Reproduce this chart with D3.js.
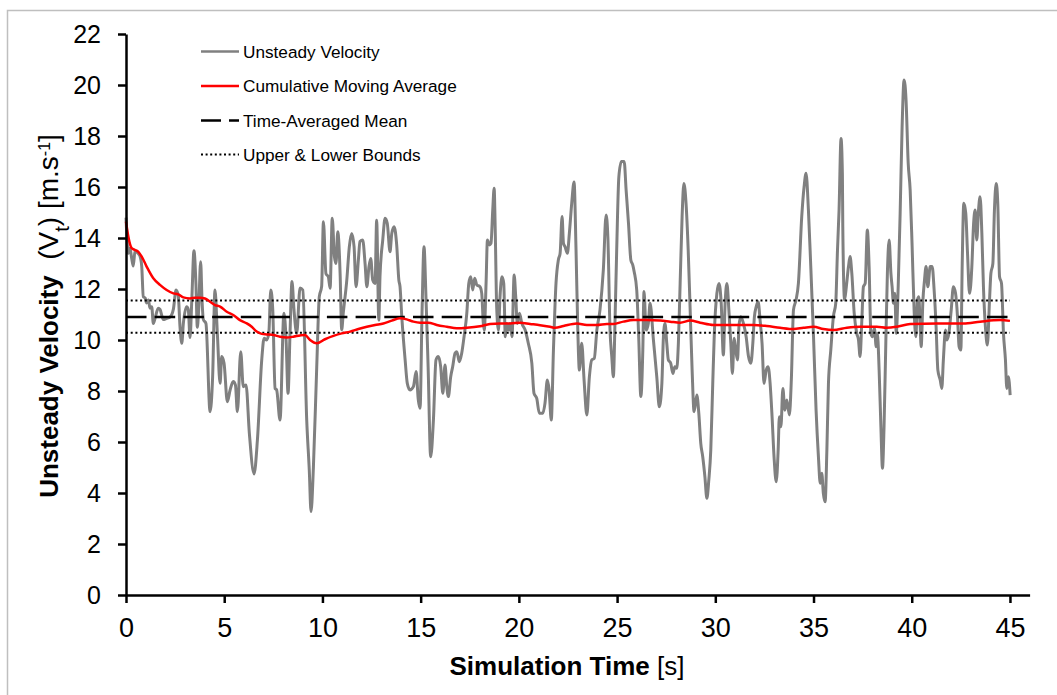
<!DOCTYPE html>
<html lang="en">
<head>
<meta charset="utf-8">
<title>Unsteady velocity</title>
<script src="https://cdn.jsdelivr.net/npm/d3@7"></script>
<style>
  body { margin: 0; background: #fff; }
  svg { display: block; font-family: Arial, "Liberation Sans", sans-serif; }
</style>
</head>
<body>
<script>
// unsteady velocity trace (time in s, velocity in m/s)
var timeData = [0, 0.12, 0.20, 0.29, 0.37, 0.46, 0.61, 0.71, 0.80, 0.88, 0.97, 1.05, 1.14, 1.22, 1.31, 1.39, 1.48, 1.64, 1.73, 1.90,
  2.07, 2.24, 2.41, 2.55, 2.66, 2.75, 2.84, 2.92, 3.09, 3.17, 3.26, 3.35, 3.46, 3.56, 3.63, 3.70, 3.80, 3.87, 3.94, 4.07,
  4.28, 4.41, 4.53, 4.65, 4.79, 4.87, 4.99, 5.16, 5.30, 5.46, 5.57, 5.67, 5.84, 5.97, 6.11, 6.28, 6.52, 6.69, 6.91, 7.03,
  7.16, 7.27, 7.37, 7.47, 7.59, 7.67, 7.84, 8.04, 8.15, 8.25, 8.35, 8.45, 8.55, 8.69, 8.86, 9.00, 9.20, 9.33, 9.42, 9.54,
  9.71, 9.84, 9.96, 10.05, 10.18, 10.30, 10.39, 10.50, 10.61, 10.69, 10.78, 10.90, 10.98, 11.06, 11.24, 11.37, 11.49, 11.61, 11.71, 11.83,
  11.91, 12.05, 12.17, 12.26, 12.37, 12.46, 12.56, 12.68, 12.76, 12.87, 12.93, 13.07, 13.19, 13.30, 13.44, 13.53, 13.65, 13.78, 13.89, 13.95,
  14.04, 14.21, 14.32, 14.46, 14.63, 14.77, 14.88, 14.97, 15.07, 15.17, 15.27, 15.38, 15.51, 15.65, 15.78, 15.90, 16.02, 16.13, 16.24, 16.33,
  16.41, 16.53, 16.63, 16.75, 16.84, 16.97, 17.09, 17.21, 17.35, 17.45, 17.55, 17.65, 17.75, 17.86, 18.02, 18.11, 18.19, 18.24, 18.33, 18.40,
  18.50, 18.58, 18.67, 18.74, 18.80, 18.87, 18.96, 19.04, 19.14, 19.23, 19.31, 19.38, 19.47, 19.55, 19.65, 19.76, 19.84, 19.92, 20.03, 20.15,
  20.32, 20.48, 20.66, 20.77, 20.91, 21.04, 21.22, 21.33, 21.45, 21.54, 21.65, 21.76, 21.89, 22.01, 22.10, 22.20, 22.27, 22.35, 22.47, 22.57,
  22.69, 22.81, 22.91, 23.00, 23.08, 23.20, 23.32, 23.46, 23.59, 23.71, 23.84, 23.97, 24.13, 24.30, 24.44, 24.53, 24.64, 24.73, 24.81, 24.90,
  24.98, 25.09, 25.22, 25.36, 25.46, 25.58, 25.70, 25.80, 25.87, 26.00, 26.10, 26.21, 26.31, 26.37, 26.48, 26.59, 26.68, 26.85, 27.02, 27.15,
  27.28, 27.36, 27.44, 27.53, 27.61, 27.73, 27.84, 27.94, 28.04, 28.12, 28.21, 28.31, 28.40, 28.51, 28.62, 28.72, 28.82, 28.92, 29.06, 29.16,
  29.26, 29.36, 29.47, 29.57, 29.67, 29.77, 29.87, 29.95, 30.08, 30.19, 30.30, 30.41, 30.50, 30.59, 30.69, 30.79, 30.87, 30.96, 31.04, 31.13,
  31.21, 31.30, 31.43, 31.57, 31.69, 31.81, 31.91, 31.99, 32.08, 32.18, 32.28, 32.38, 32.48, 32.59, 32.69, 32.79, 32.89, 32.99, 33.10, 33.20,
  33.26, 33.34, 33.44, 33.54, 33.64, 33.77, 33.87, 33.98, 34.11, 34.23, 34.40, 34.52, 34.62, 34.74, 34.86, 35.00, 35.13, 35.25, 35.34, 35.42,
  35.50, 35.59, 35.68, 35.76, 35.88, 36.01, 36.13, 36.22, 36.30, 36.40, 36.47, 36.49, 36.58, 36.67, 36.78, 36.86, 36.95, 37.07, 37.20, 37.29,
  37.37, 37.46, 37.54, 37.63, 37.74, 37.83, 37.92, 38.00, 38.10, 38.19, 38.25, 38.34, 38.43, 38.51, 38.59, 38.68, 38.76, 38.85, 38.94, 39.00,
  39.07, 39.14, 39.21, 39.31, 39.41, 39.51, 39.61, 39.71, 39.82, 39.92, 40.02, 40.12, 40.21, 40.29, 40.36, 40.43, 40.48, 40.57, 40.65, 40.73,
  40.82, 40.94, 41.04, 41.14, 41.24, 41.33, 41.45, 41.53, 41.61, 41.72, 41.79, 41.89, 42.01, 42.12, 42.23, 42.33, 42.41, 42.50, 42.57, 42.65,
  42.75, 42.84, 42.94, 43.06, 43.14, 43.23, 43.31, 43.40, 43.48, 43.57, 43.65, 43.75, 43.85, 43.96, 44.03, 44.13, 44.21, 44.30, 44.38, 44.47,
  44.57, 44.67, 44.77, 44.84, 44.92, 45.01];

var velocity = [14.8, 13.4, 13.6, 13.2, 12.9, 13.5, 13.4, 13.3, 12.9, 11.7, 11.65, 11.45, 11.57, 11.25, 11.3, 10.65, 10.85, 11.25, 11.2, 10.8,
  10.85, 10.9, 11.2, 11.96, 11.75, 10.5, 9.87, 10.65, 11.3, 11.2, 10.1, 11.57, 13.5, 12.2, 10.5, 11.2, 13.07, 11.57, 10.8, 10.65,
  7.19, 8.56, 11.96, 10.27, 8.3, 9.35, 9.1, 7.58, 8.04, 8.37, 8.24, 7.19, 9.54, 8.17, 8.24, 6.34, 4.75, 6.08, 9.22, 10.07,
  10.0, 10.26, 11.96, 11.2, 8.1, 8.04, 6.86, 11.05, 10.0, 7.91, 10.26, 12.29, 11.2, 10.26, 12.04, 11.96, 6.86, 4.9, 3.27, 5.0,
  8.95, 11.7, 12.1, 14.64, 12.6, 12.48, 12.03, 14.77, 13.27, 13.0, 14.25, 12.6, 10.4, 11.05, 12.35, 13.66, 14.18, 13.66, 12.09, 13.14,
  13.86, 13.92, 13.0, 12.09, 12.88, 13.2, 12.35, 12.22, 14.7, 10.78, 12.48, 13.92, 14.77, 14.58, 13.46, 14.18, 14.44, 13.73, 12.35, 12.09,
  10.91, 9.22, 8.3, 8.04, 8.17, 8.76, 7.65, 7.32, 11.05, 13.66, 11.7, 8.95, 5.42, 6.86, 9.22, 9.35, 8.95, 7.91, 9.02, 8.17,
  7.78, 8.56, 8.95, 9.48, 9.54, 9.15, 9.48, 10.13, 11.05, 12.22, 12.48, 11.96, 12.42, 12.16, 12.09, 11.83, 10.65, 10.39, 12.22, 13.92,
  13.73, 13.79, 15.1, 15.95, 14.18, 11.3, 10.39, 11.7, 12.48, 12.22, 10.13, 10.65, 10.39, 10.65, 10.13, 12.55, 11.7, 10.65, 11.05, 10.65,
  10.39, 9.87, 9.09, 7.91, 7.71, 7.13, 7.13, 7.52, 8.43, 8.04, 6.86, 9.61, 12.22, 13.14, 13.4, 14.84, 13.79, 13.66, 13.4, 14.18,
  15.36, 16.2, 13.53, 10.39, 8.82, 9.87, 8.43, 7.06, 8.56, 9.22, 9.28, 10.39, 11.18, 12.75, 14.9, 14.05, 10.39, 9.35, 8.56, 10.91,
  13.53, 16.4, 17.0, 17.0, 15.88, 14.58, 13.14, 12.94, 12.68, 11.96, 10.13, 7.78, 9.61, 11.9, 10.39, 10.65, 11.44, 10.0, 8.56, 7.38,
  8.3, 10.13, 10.65, 9.87, 9.22, 9.09, 8.69, 8.95, 8.89, 9.87, 12.22, 14.84, 16.14, 15.36, 13.53, 11.18, 8.82, 7.19, 7.84, 7.13,
  5.95, 5.42, 4.64, 3.79, 4.51, 5.69, 8.3, 10.26, 11.83, 12.22, 11.44, 9.41, 11.44, 12.22, 11.18, 9.87, 8.69, 10.07, 9.61, 9.22,
  10.59, 10.91, 10.65, 10.13, 9.35, 9.09, 9.87, 10.91, 11.3, 11.5, 10.78, 9.87, 8.3, 8.82, 8.95, 8.3, 6.99, 5.42, 4.44, 5.69,
  6.99, 6.6, 8.1, 7.25, 7.65, 7.06, 8.43, 11.18, 11.57, 12.22, 14.84, 16.01, 16.54, 15.1, 12.88, 10.13, 7.25, 5.42, 4.38, 4.77,
  3.99, 3.66, 5.69, 8.3, 9.61, 10.91, 11.44, 13.53, 15.1, 17.9, 16.5, 14.44, 11.57, 12.09, 12.88, 13.27, 12.61, 11.05, 10.26, 10.0,
  9.35, 10.78, 12.09, 12.22, 14.31, 12.88, 10.26, 10.13, 10.46, 9.74, 10.26, 8.82, 6.6, 4.97, 6.6, 9.87, 12.61, 13.92, 12.61, 12.09,
  11.44, 11.83, 10.26, 12.09, 14.97, 18.37, 20.2, 19.41, 16.93, 15.88, 13.66, 11.18, 10.13, 11.57, 11.7, 10.52, 9.74, 11.57, 12.35, 12.88,
  12.09, 12.88, 12.88, 11.96, 10.52, 8.82, 8.43, 8.1, 9.22, 10.39, 10.0, 10.26, 11.18, 12.09, 11.83, 10.91, 9.74, 9.61, 13.0, 15.36,
  14.97, 13.4, 11.83, 12.88, 14.44, 15.1, 13.92, 15.1, 15.62, 14.18, 12.09, 10.52, 9.8, 11.57, 12.61, 13.0, 15.1, 16.14, 15.36, 12.48,
  12.22, 10.26, 9.22, 8.1, 8.56, 7.84];

// cumulative moving average
var cmaTime = [0, 0.12, 0.29, 0.46, 0.63, 0.80, 1.05, 1.39, 1.73, 2.07, 2.41, 2.66, 2.92, 3.26, 3.51, 3.77, 4.02, 4.28, 4.53, 4.79,
  5.13, 5.46, 5.80, 6.15, 6.40, 6.65, 6.91, 7.16, 7.50, 7.84, 8.18, 8.52, 8.86, 9.11, 9.37, 9.71, 10.13, 10.56, 10.98, 11.41,
  11.83, 12.26, 12.68, 13.10, 13.53, 13.95, 14.29, 14.63, 14.97, 15.39, 15.82, 16.33, 16.84, 17.35, 18.02, 18.53, 19.04, 19.55, 20.06, 20.57,
  21.08, 21.59, 21.84, 22.27, 22.95, 23.46, 23.97, 24.48, 24.81, 25.32, 25.83, 26.51, 27.19, 27.70, 28.21, 28.72, 29.23, 29.90, 30.59, 31.26,
  31.94, 32.62, 33.30, 33.98, 34.49, 35.00, 35.50, 36.01, 36.70, 37.37, 38.22, 38.73, 39.24, 39.92, 41.28, 42.63, 43.48, 44.50, 45.0];
var cmaValues = [14.64, 14.05, 13.6, 13.53, 13.46, 13.27, 12.88, 12.42, 12.16, 11.96, 11.83, 11.79, 11.67, 11.63, 11.66, 11.66, 11.63, 11.5, 11.37, 11.31,
  11.11, 10.98, 10.78, 10.65, 10.52, 10.33, 10.24, 10.22, 10.2, 10.13, 10.1, 10.13, 10.18, 10.2, 10.0, 9.87, 10.03, 10.16, 10.26, 10.33,
  10.43, 10.52, 10.59, 10.65, 10.76, 10.85, 10.81, 10.72, 10.68, 10.68, 10.59, 10.52, 10.46, 10.48, 10.54, 10.63, 10.65, 10.65, 10.68, 10.63,
  10.58, 10.52, 10.48, 10.55, 10.65, 10.59, 10.59, 10.63, 10.63, 10.72, 10.78, 10.78, 10.76, 10.72, 10.68, 10.76, 10.68, 10.59, 10.59, 10.59,
  10.59, 10.55, 10.48, 10.43, 10.48, 10.52, 10.43, 10.39, 10.48, 10.52, 10.52, 10.48, 10.52, 10.63, 10.65, 10.65, 10.72, 10.78, 10.75];

var meanValue = 10.9;
var upperBound = 11.55;
var lowerBound = 10.28;
var xTicks = [0, 5, 10, 15, 20, 25, 30, 35, 40, 45];
var yTicks = [0, 2, 4, 6, 8, 10, 12, 14, 16, 18, 20, 22];
var legendNames = ["Unsteady Velocity", "Cumulative Moving Average", "Time-Averaged Mean", "Upper & Lower Bounds"];

var w = 1057, h = 695;
var plotLeft = 126, plotRight = 1029.6, plotTop = 34, plotBottom = 595;

var svg = d3.select("body").append("svg")
  .attr("width", w)
  .attr("height", h);

// chart frame
svg.append("rect")
  .attr("x", 7.5).attr("y", 10.5)
  .attr("width", 1100).attr("height", 700)
  .attr("fill", "white")
  .attr("stroke", "#bfbfbf")
  .attr("stroke-width", 1.5);

var x = d3.scaleLinear().domain([0, 46]).range([plotLeft, plotRight]);
var y = d3.scaleLinear().domain([0, 22]).range([plotBottom, plotTop]);

var velPoints = timeData.map(function(t, i) { return [t, velocity[i]]; });
var cmaPoints = cmaTime.map(function(t, i) { return [t, cmaValues[i]]; });

var line = d3.line()
  .x(function(d) { return x(d[0]); })
  .y(function(d) { return y(d[1]); })
  .curve(d3.curveMonotoneX);

// grey trace
svg.append("path")
  .datum(velPoints)
  .attr("d", line)
  .attr("fill", "none")
  .attr("stroke", "#808080")
  .attr("stroke-width", 3)
  .attr("stroke-linejoin", "round");

// bounds (dotted)
svg.selectAll("line.bound")
  .data([upperBound, lowerBound])
  .enter().append("line")
  .attr("class", "bound")
  .attr("x1", x(0)).attr("x2", x(45))
  .attr("y1", function(d) { return y(d); })
  .attr("y2", function(d) { return y(d); })
  .attr("stroke", "black")
  .attr("stroke-width", 2)
  .attr("stroke-dasharray", "2,2.7");

// mean (dashed)
svg.append("line")
  .attr("x1", x(0)).attr("x2", x(45))
  .attr("y1", y(meanValue)).attr("y2", y(meanValue))
  .attr("stroke", "black")
  .attr("stroke-width", 2.5)
  .attr("stroke-dasharray", "20.5,8.2");

// red CMA
svg.append("path")
  .datum(cmaPoints)
  .attr("d", line)
  .attr("fill", "none")
  .attr("stroke", "#ff0000")
  .attr("stroke-width", 2.5);

// axes
var xAxis = svg.append("g")
  .attr("transform", "translate(0," + plotBottom + ")")
  .call(d3.axisBottom(x).tickValues(xTicks).tickSize(8).tickSizeOuter(0).tickPadding(15));
xAxis.select(".domain").attr("stroke-width", 2.5);
xAxis.selectAll(".tick line").attr("stroke-width", 2.5);
xAxis.selectAll(".tick text")
  .attr("font-size", "27px")
  .attr("font-family", "Arial, 'Liberation Sans', sans-serif")
  .attr("fill", "black");

var yAxis = svg.append("g")
  .attr("transform", "translate(" + plotLeft + ",0)")
  .call(d3.axisLeft(y).tickValues(yTicks).tickSize(8).tickSizeOuter(0).tickPadding(17));
yAxis.select(".domain").attr("stroke-width", 2.5);
yAxis.selectAll(".tick line").attr("stroke-width", 2.5);
yAxis.selectAll(".tick text")
  .attr("font-size", "25px")
  .attr("font-family", "Arial, 'Liberation Sans', sans-serif")
  .attr("fill", "black");

// axis titles
var xt = svg.append("text")
  .attr("x", 567).attr("y", 675)
  .attr("text-anchor", "middle")
  .attr("font-size", "26px")
  .attr("fill", "black");
xt.append("tspan").attr("font-weight", "bold").text("Simulation Time");
xt.append("tspan").text("\u00a0[s]");

var yt = svg.append("text")
  .attr("transform", "translate(58,316) rotate(-90)")
  .attr("text-anchor", "middle")
  .attr("font-size", "26px")
  .attr("fill", "black");
yt.append("tspan").attr("font-weight", "bold").text("Unsteady Velocity");
yt.append("tspan").attr("font-size", "28px").text("\u00a0\u00a0(V");
yt.append("tspan").attr("baseline-shift", "sub").attr("font-size", "20px").text("t");
yt.append("tspan").attr("font-size", "28px").text(")\u00a0[m.s");
yt.append("tspan").attr("baseline-shift", "super").attr("font-size", "16px").text("-1");
yt.append("tspan").attr("font-size", "28px").text("]");

// legend
var legY = [51.5, 86, 120.5, 154.5];
var legStroke = ["#808080", "#ff0000", "black", "black"];
var legWidth = [2.5, 2.5, 2.5, 1.8];
var legDash = [null, null, "20,8", "2,2.6"];

var leg = svg.selectAll("g.leg")
  .data(legendNames)
  .enter().append("g")
  .attr("class", "leg")
  .attr("transform", function(d, i) { return "translate(0," + legY[i] + ")"; });

leg.append("line")
  .attr("x1", 201).attr("x2", 239)
  .attr("y1", 0).attr("y2", 0)
  .attr("stroke", function(d, i) { return legStroke[i]; })
  .attr("stroke-width", function(d, i) { return legWidth[i]; })
  .attr("stroke-dasharray", function(d, i) { return legDash[i]; });

leg.append("text")
  .attr("x", 243)
  .attr("y", 6)
  .attr("font-size", "17.2px")
  .attr("fill", "black")
  .text(function(d) { return d; });
</script>
</body>
</html>
